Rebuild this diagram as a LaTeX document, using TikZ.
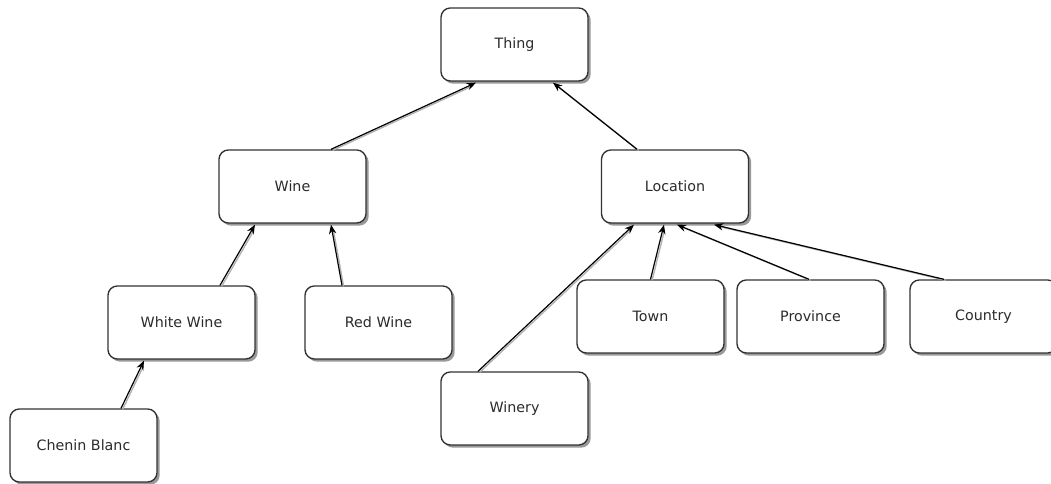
\documentclass[tikz,border=0pt]{standalone}
\usepackage{fontspec}
\setmainfont{DejaVu Sans}
\usetikzlibrary{calc,shadows,arrows.meta}
\definecolor{boxline}{HTML}{333333}
\definecolor{labeltext}{HTML}{2B2B2B}
\tikzset{
  concept/.style={draw=boxline, line width=1pt, fill=white, rounded corners=7pt,
    minimum width=110.25pt, minimum height=54.75pt, inner sep=0pt,
    font=\fontsize{10.7pt}{12pt}\selectfont, text=labeltext,
    drop shadow={shadow xshift=2pt, shadow yshift=-2pt, fill=black!50, opacity=0.8}},
  isa/.style={draw=black, line width=0.9pt, -{Stealth[length=7pt,width=5.5pt]}},
  isashade/.style={draw=black!30, line width=1pt, shorten >=4pt}
}
\newcommand{\isaedge}[2]{%
  \draw[isashade] ($#1+(1.6,1)$) -- ($#2+(1.6,1)$);
  \draw[isa] #1 -- #2;}
\begin{document}
\begin{tikzpicture}[x=0.75pt,y=-0.75pt]
  \useasboundingbox (0,0) rectangle (1051,484);
  \clip (0,0) rectangle (1051,484);
  \fill[white] (0,0) rectangle (1051,484);

  % class nodes
  \node[concept] (thing)    at (514.5,44.5)  {Thing};
  \node[concept] (wine)     at (292.5,186.5) {Wine};
  \node[concept] (location) at (675,186.5)   {Location};
  \node[concept] (white)    at (181.5,322.5) {White Wine};
  \node[concept] (red)      at (378.5,322.5) {Red Wine};
  \node[concept] (town)     at (650.5,316.5) {Town};
  \node[concept] (province) at (810.5,316.5) {Province};
  \node[concept] (country)  at (983.5,316.5) {Country};
  \node[concept] (winery)   at (514.5,408.5) {Winery};
  \node[concept] (chenin)   at (83.5,445.5)  {Chenin Blanc};

  % subclass links, child -> parent
  \isaedge{($(wine.north)+(38.5,0)$)}{($(thing.south)+(-38.5,1)$)}
  \isaedge{($(location.north)+(-38,0)$)}{($(thing.south)+(38.5,1)$)}
  \isaedge{($(white.north)+(38.5,0)$)}{($(wine.south)+(-37.5,1)$)}
  \isaedge{($(red.north)+(-36.5,0)$)}{($(wine.south)+(38.5,1)$)}
  \isaedge{($(chenin.north)+(37.5,0)$)}{($(white.south)+(-37.5,1)$)}
  \isaedge{($(winery.north)+(-36.5,0)$)}{($(location.south)+(-41,1)$)}
  \isaedge{($(town.north)+(0,0)$)}{($(location.south)+(-11,1)$)}
  \isaedge{($(province.north)+(-1.5,0)$)}{($(location.south)+(2,1)$)}
  \isaedge{($(country.north)+(-39.5,0)$)}{($(location.south)+(39,1)$)}
\end{tikzpicture}
\end{document}
